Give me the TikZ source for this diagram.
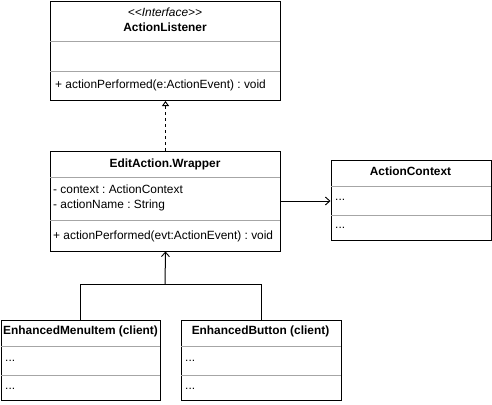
\documentclass[tikz,border=0pt]{standalone}
\usepackage{fontspec}
\setmainfont{Liberation Sans}
\usetikzlibrary{arrows.meta}
\frenchspacing
\begin{document}
\begin{tikzpicture}[x=1pt,y=-1pt,
  box/.style={draw=black,line width=1pt,fill=white,anchor=north west,inner sep=0pt},
  div/.style={draw=black!35,line width=1pt},
  txt/.style={inner sep=0pt,font=\fontsize{11.9}{14}\selectfont},
  ttl/.style={txt,font=\fontsize{11.9}{14}\selectfont\bfseries},
  lft/.style={txt,anchor=west},
  conn/.style={line width=1pt,draw=black},
  openarr/.style={-{Straight Barb[length=4.5pt,width=8pt,line width=0.9pt]}},
  realarr/.style={dashed,dash pattern=on 3pt off 3pt,-{Triangle[open,length=5pt,width=7pt,line width=0.9pt]}}
]
\useasboundingbox (0,0) rectangle (492,404);
% ActionListener
\node[box,minimum width=230pt,minimum height=99pt] (al) at (50,1) {};
\draw[div] (50,41.5) -- (280,41.5);
\draw[div] (50,71) -- (280,71);
\node[txt,font=\fontsize{11.9}{14}\selectfont\itshape] (alst) at (165,12) {{<}{<}Interface{>}{>}};
\node[ttl] (alt) at (165,27) {ActionListener};
\node[lft] (alm) at (55,85.5) {+ actionPerformed(e:ActionEvent) : void};
% EditAction.Wrapper
\node[box,minimum width=230pt,minimum height=100pt] (ew) at (50,150.5) {};
\draw[div] (50,177) -- (280,177);
\draw[div] (50,220.5) -- (280,220.5);
\node[ttl] (ewt) at (165,164) {EditAction.Wrapper};
\node[lft] (ewa1) at (53,189) {- context : ActionContext};
\node[lft] (ewa2) at (53,205) {- actionName : String};
\node[lft] (ewm) at (53,236) {+ actionPerformed(evt:ActionEvent) : void};
% ActionContext
\node[box,minimum width=160pt,minimum height=80pt] (ac) at (330.5,160) {};
\draw[div] (330.5,186.5) -- (490.5,186.5);
\draw[div] (330.5,215) -- (490.5,215);
\node[ttl] (act) at (410.5,171) {ActionContext};
\node[lft] (ac1) at (335,200) {...};
\node[lft] (ac2) at (335,228) {...};
% EnhancedMenuItem
\node[box,minimum width=159pt,minimum height=80pt] (mi) at (0.5,320) {};
\draw[div] (0.5,346.5) -- (159.5,346.5);
\draw[div] (0.5,375.5) -- (159.5,375.5);
\node[ttl,anchor=west] (mit) at (3,331) {EnhancedMenuItem (client)};
\node[lft] (mi1) at (5,361) {...};
\node[lft] (mi2) at (5,389) {...};
% EnhancedButton
\node[box,minimum width=160pt,minimum height=80pt] (eb) at (180.5,320) {};
\draw[div] (180.5,346.5) -- (340.5,346.5);
\draw[div] (180.5,375.5) -- (340.5,375.5);
\node[ttl] (ebt) at (260.5,331) {EnhancedButton (client)};
\node[lft] (eb1) at (185,361) {...};
\node[lft] (eb2) at (185,389) {...};
% connectors
\coordinate (j) at (165,284.5);
\draw[conn,realarr] (ew.north) -- (al.south);
\draw[conn,openarr] (280,201) -- (ac.west |- 0,201);
\draw[conn] (mi.north) |- (j);
\draw[conn] (eb.north) |- (j);
\draw[conn,openarr] (j) -- (ew.south);
\end{tikzpicture}
\end{document}
